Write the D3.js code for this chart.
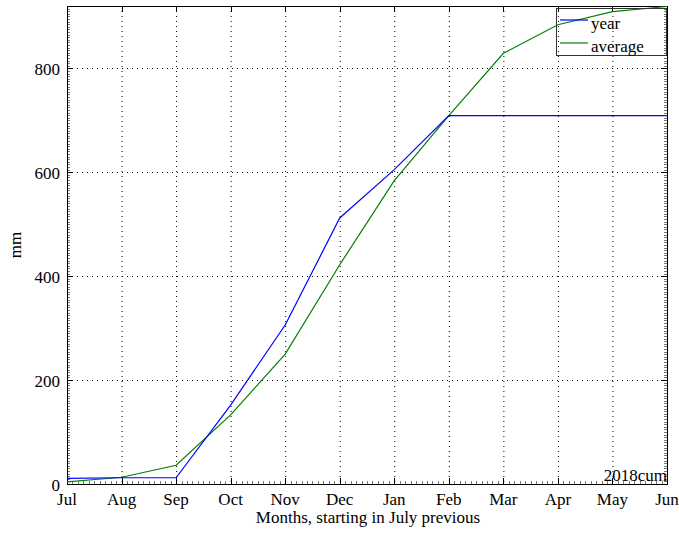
<!DOCTYPE html>
<html>
<head>
<meta charset="utf-8">
<script src="https://cdn.jsdelivr.net/npm/d3@7"></script>
<style>
  body { margin: 0; background: #fff; }
  svg text { font-family: "Liberation Serif", "Times New Roman", serif; fill: #000; }
</style>
</head>
<body>
<div id="chart"></div>
<script>
// Cumulative rainfall, months starting July previous year
const months = ["Jul", "Aug", "Sep", "Oct", "Nov", "Dec", "Jan", "Feb", "Mar", "Apr", "May", "Jun"];
const yearValues = [11, 12, 12, 152, 306, 512, 605, 709, 709, 709, 709, 709];
const averageValues = [4, 13, 36, 133, 250, 422, 584, 709, 829, 884, 909, 919];
const yTicks = [0, 200, 400, 600, 800];

const width = 679, height = 536;
const margin = {top: 6, right: 12, bottom: 52, left: 67};
const plotW = width - margin.left - margin.right;
const plotH = height - margin.top - margin.bottom;

const svg = d3.select("#chart").append("svg")
  .attr("width", width)
  .attr("height", height);

const chart = svg.append("g")
  .attr("transform", `translate(${margin.left},${margin.top})`);

// Scales
const xScale = d3.scaleLinear()
  .domain([0, months.length - 1])
  .range([0, plotW]);

const yScale = d3.scaleLinear()
  .domain([0, 920])
  .range([plotH, 0]);

// Dotted grid
chart.append("g")
  .selectAll("line")
  .data(d3.range(1, months.length - 1))
  .join("line")
  .attr("x1", d => xScale(d) + 0.5)
  .attr("x2", d => xScale(d) + 0.5)
  .attr("y1", 0)
  .attr("y2", plotH)
  .attr("stroke", "#000")
  .attr("stroke-dasharray", "1,4");

chart.append("g")
  .selectAll("line")
  .data(yTicks.slice(1))
  .join("line")
  .attr("x1", 0)
  .attr("x2", plotW)
  .attr("y1", d => Math.round(yScale(d)) + 0.5)
  .attr("y2", d => Math.round(yScale(d)) + 0.5)
  .attr("stroke", "#000")
  .attr("stroke-dasharray", "1,4");

// Minor ticks (inward), on left/right and bottom
const yMinor = d3.range(0, 921, 5);
const xMinor = d3.range(0, (months.length - 1) * 10 + 1).map(d => d / 10);

chart.append("g")
  .selectAll("line")
  .data(yMinor)
  .join("line")
  .attr("x1", 0).attr("x2", 3)
  .attr("y1", d => Math.round(yScale(d)) + 0.5)
  .attr("y2", d => Math.round(yScale(d)) + 0.5)
  .attr("stroke", "#777");

chart.append("g")
  .selectAll("line")
  .data(yMinor)
  .join("line")
  .attr("x1", plotW - 3).attr("x2", plotW)
  .attr("y1", d => Math.round(yScale(d)) + 0.5)
  .attr("y2", d => Math.round(yScale(d)) + 0.5)
  .attr("stroke", "#777");

chart.append("g")
  .selectAll("line")
  .data(xMinor)
  .join("line")
  .attr("x1", d => Math.round(xScale(d)) + 0.5)
  .attr("x2", d => Math.round(xScale(d)) + 0.5)
  .attr("y1", plotH - 3).attr("y2", plotH)
  .attr("stroke", "#777");

// Major ticks
chart.append("g")
  .selectAll("line")
  .data(yTicks)
  .join("line")
  .attr("x1", 0).attr("x2", 6)
  .attr("y1", d => Math.round(yScale(d)) + 0.5)
  .attr("y2", d => Math.round(yScale(d)) + 0.5)
  .attr("stroke", "#000");

chart.append("g")
  .selectAll("line")
  .data(yTicks)
  .join("line")
  .attr("x1", plotW - 6).attr("x2", plotW)
  .attr("y1", d => Math.round(yScale(d)) + 0.5)
  .attr("y2", d => Math.round(yScale(d)) + 0.5)
  .attr("stroke", "#000");

chart.append("g")
  .selectAll("line")
  .data(d3.range(months.length))
  .join("line")
  .attr("x1", d => Math.round(xScale(d)) + 0.5)
  .attr("x2", d => Math.round(xScale(d)) + 0.5)
  .attr("y1", plotH - 6).attr("y2", plotH)
  .attr("stroke", "#000");

chart.append("g")
  .selectAll("line")
  .data(d3.range(months.length))
  .join("line")
  .attr("x1", d => Math.round(xScale(d)) + 0.5)
  .attr("x2", d => Math.round(xScale(d)) + 0.5)
  .attr("y1", 0).attr("y2", 6)
  .attr("stroke", "#000");

// Frame
chart.append("rect")
  .attr("x", 0.5).attr("y", 0.5)
  .attr("width", plotW).attr("height", plotH)
  .attr("fill", "none")
  .attr("stroke", "#000");

// Tick labels
chart.append("g")
  .selectAll("text")
  .data(yTicks)
  .join("text")
  .attr("x", -7)
  .attr("y", d => yScale(d) + 7)
  .attr("text-anchor", "end")
  .style("font-size", "17px")
  .text(d => d);

chart.append("g")
  .selectAll("text")
  .data(months)
  .join("text")
  .attr("x", (d, i) => xScale(i))
  .attr("y", plotH + 21)
  .attr("text-anchor", "middle")
  .style("font-size", "17px")
  .text(d => d);

// Axis labels
chart.append("text")
  .attr("x", plotW / 2 + 1)
  .attr("y", plotH + 39)
  .attr("text-anchor", "middle")
  .style("font-size", "17px")
  .text("Months, starting in July previous");

svg.append("text")
  .attr("transform", `translate(21,${margin.top + plotH / 2}) rotate(-90)`)
  .attr("text-anchor", "middle")
  .style("font-size", "17px")
  .text("mm");

// Lines
const line = d3.line()
  .x((d, i) => xScale(i))
  .y(d => yScale(d));

chart.append("path")
  .datum(averageValues)
  .attr("fill", "none")
  .attr("stroke", "#008000")
  .attr("stroke-width", 1.2)
  .attr("d", line);

chart.append("path")
  .datum(yearValues)
  .attr("fill", "none")
  .attr("stroke", "#0000ff")
  .attr("stroke-width", 1.2)
  .attr("d", line);

// Corner label
chart.append("text")
  .attr("x", plotW)
  .attr("y", plotH - 3)
  .attr("text-anchor", "end")
  .style("font-size", "17px")
  .text("2018cum");

// Legend
const legend = chart.append("g")
  .attr("transform", `translate(${plotW - 111},2)`);

legend.append("rect")
  .attr("x", 0.5).attr("y", 0.5)
  .attr("width", 110).attr("height", 47)
  .attr("fill", "none")
  .attr("stroke", "#333");

const legendItems = [
  {label: "year", color: "#0000ff"},
  {label: "average", color: "#008000"}
];

legendItems.forEach((item, i) => {
  legend.append("line")
    .attr("x1", 4).attr("x2", 32)
    .attr("y1", 12 + i * 23).attr("y2", 12 + i * 23)
    .attr("stroke", item.color)
    .attr("stroke-width", 1.2);
  legend.append("text")
    .attr("x", 35)
    .attr("y", 21 + i * 23)
    .style("font-size", "17px")
    .text(item.label);
});
</script>
</body>
</html>
